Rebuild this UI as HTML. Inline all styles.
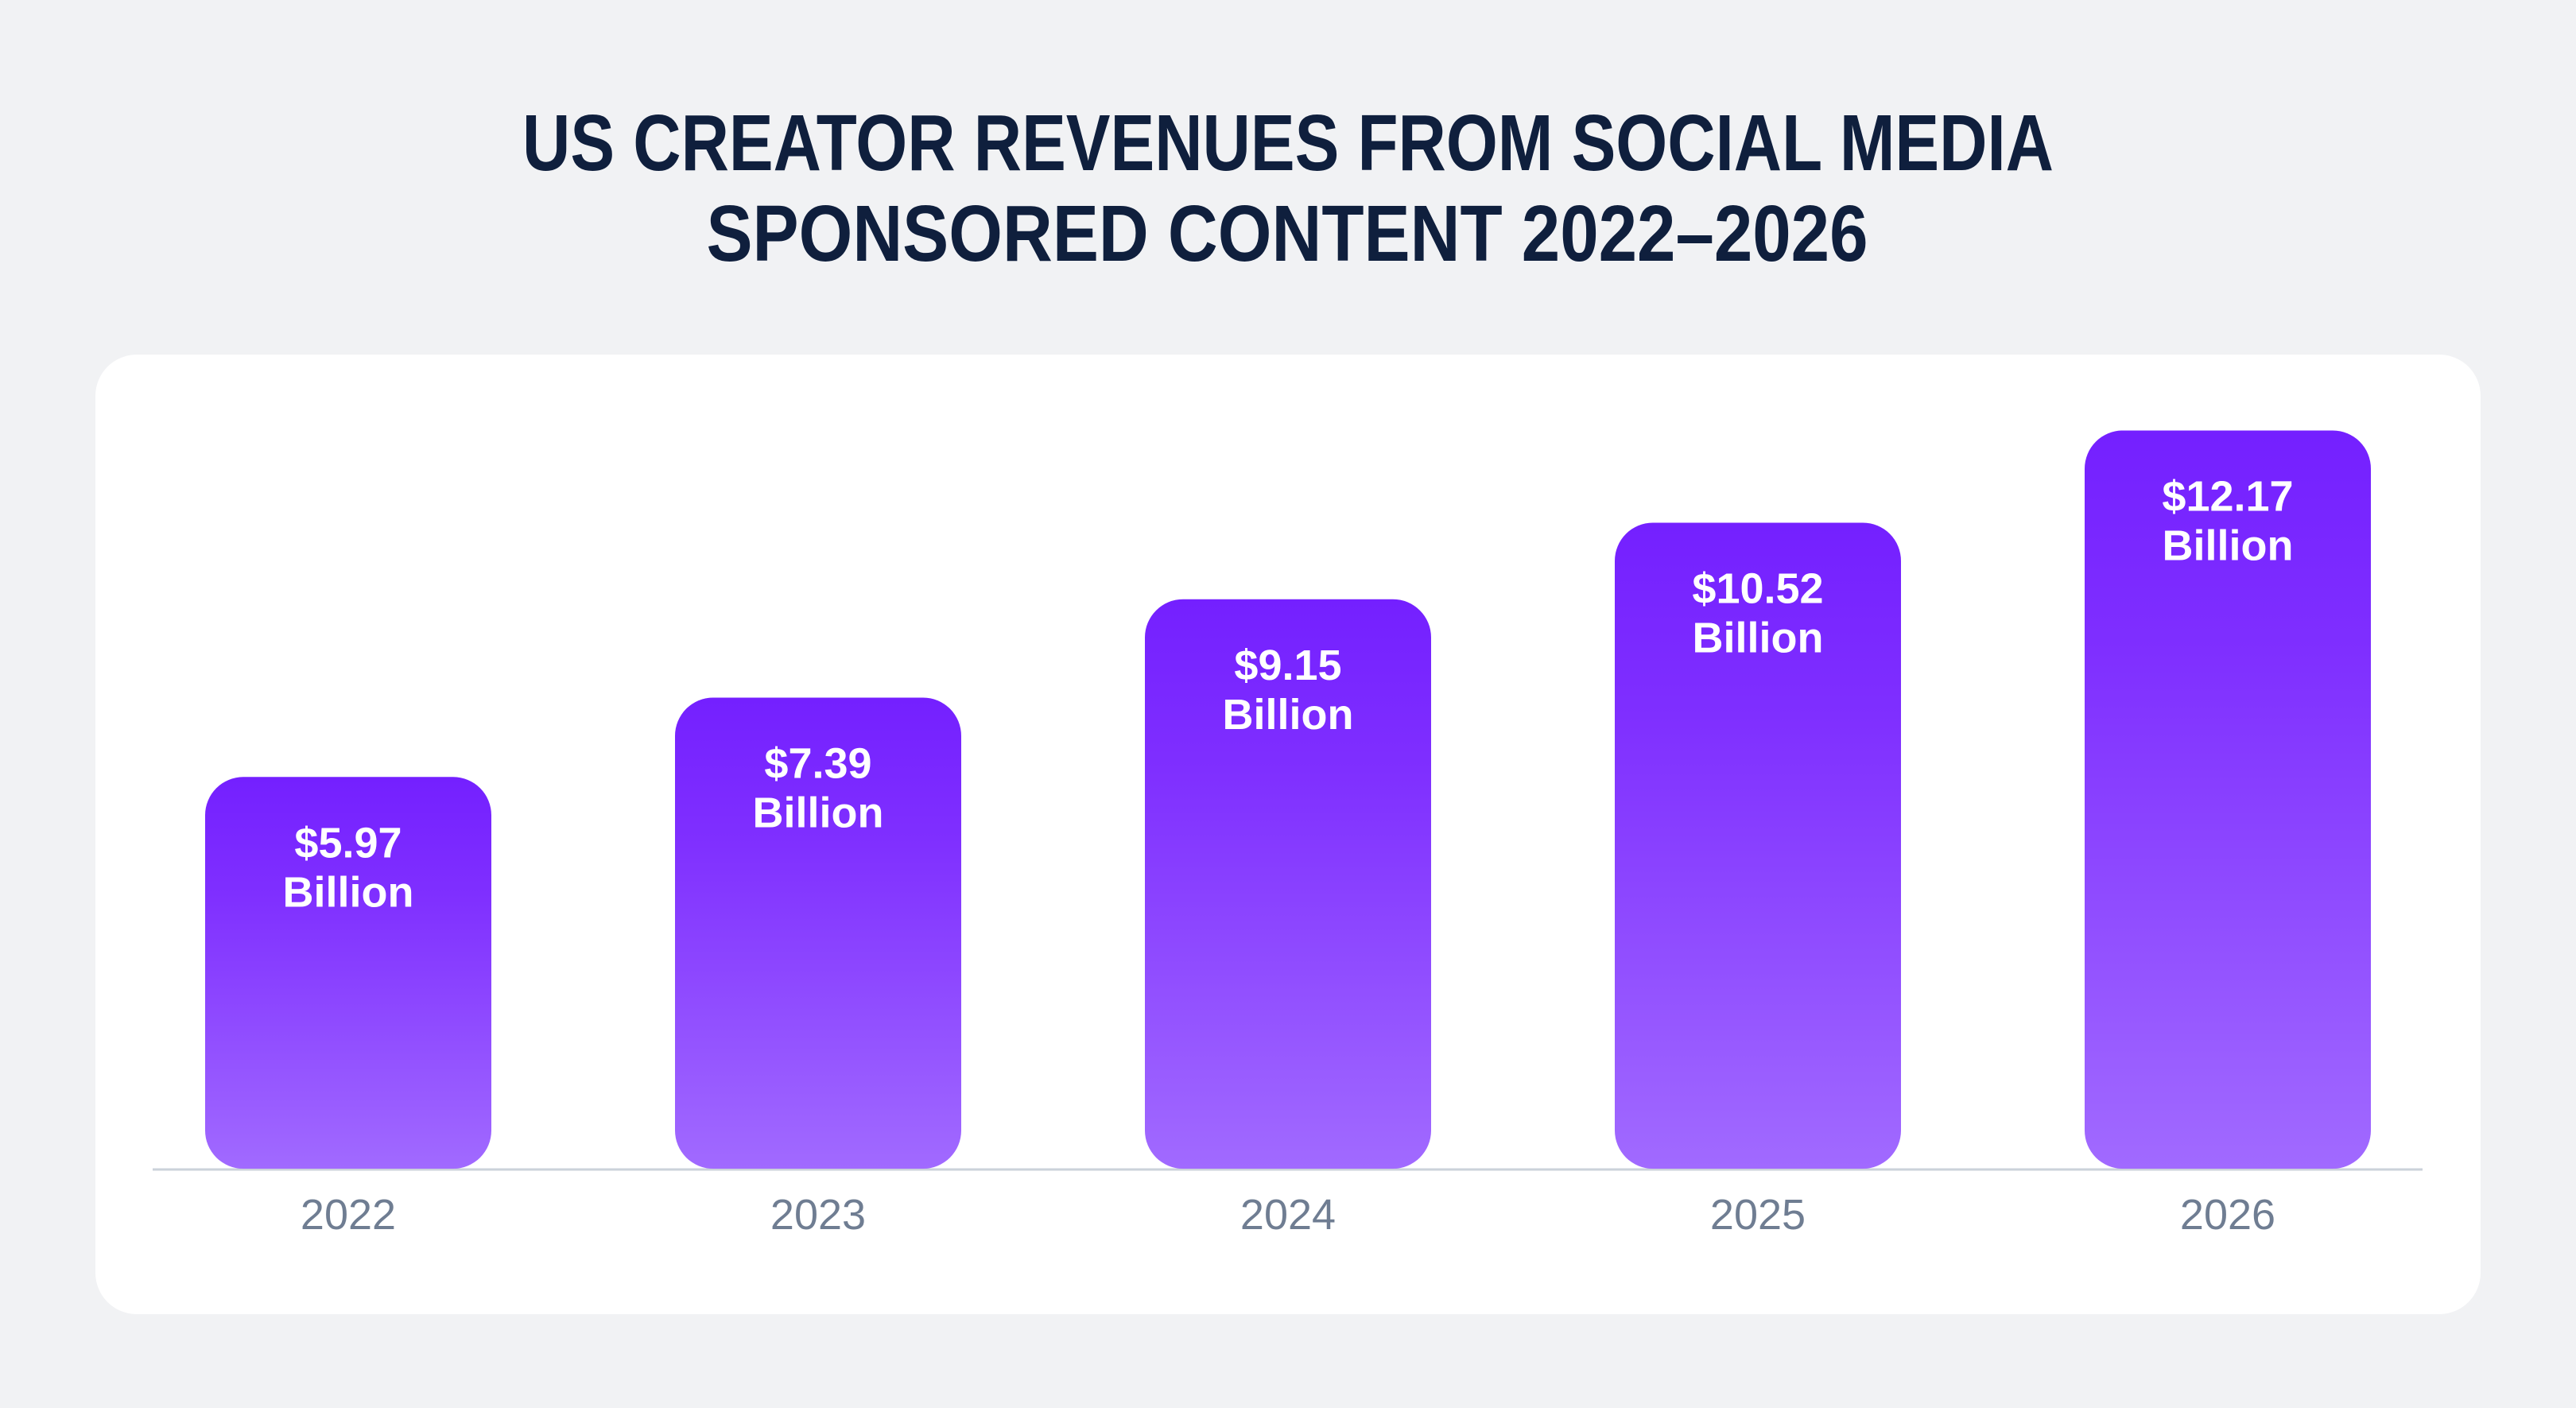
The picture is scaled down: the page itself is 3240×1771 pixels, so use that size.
<!DOCTYPE html>
<html><head><meta charset="utf-8"><style>
html,body{margin:0;padding:0;background:#f1f2f4;}
svg{display:block;font-family:"Liberation Sans",sans-serif;}
</style></head><body>
<svg id="chart" width="3240" height="1771" viewBox="0 0 3240 1771">
<defs><linearGradient id="bg" x1="0" y1="0" x2="0" y2="1"><stop offset="0" stop-color="#7420ff"/><stop offset="0.3" stop-color="#7f2fff"/><stop offset="1" stop-color="#a16aff"/></linearGradient></defs>
<rect x="0" y="0" width="3240" height="1771" fill="#f1f2f4"/>
<text x="1620" y="214" text-anchor="middle" font-size="100" font-weight="bold" fill="#0f1f3d" textLength="1926" lengthAdjust="spacingAndGlyphs">US CREATOR REVENUES FROM SOCIAL MEDIA</text>
<text x="1619" y="328" text-anchor="middle" font-size="100" font-weight="bold" fill="#0f1f3d" textLength="1461" lengthAdjust="spacingAndGlyphs">SPONSORED CONTENT 2022–2026</text>
<rect x="120" y="446" width="3000" height="1207" rx="52" fill="#ffffff"/>
<line x1="192" y1="1471" x2="3047" y2="1471" stroke="#cbd2da" stroke-width="3"/>
<g id="bars"></g>
</svg>
<script>
const categories = ["2022","2023","2024","2025","2026"];
const values = [5.97, 7.39, 9.15, 10.52, 12.17];
const valueLabels = ["$5.97","$7.39","$9.15","$10.52","$12.17"];
const unitLabel = "Billion";

const baseY = 1470, firstCenter = 438, pitch = 591, barW = 360;
function xScale(i){ return firstCenter + i*pitch; }
function hScale(v){ return 73 + 70.3*v; }
const ns = "http://www.w3.org/2000/svg";
const g = document.getElementById("bars");
categories.forEach((c,i)=>{
  const cx = xScale(i), h = hScale(values[i]), top = baseY - h;
  const r = document.createElementNS(ns,"rect");
  
  
  r.setAttribute("x", cx - barW/2); r.setAttribute("y", top);
  r.setAttribute("width", barW); r.setAttribute("height", h);
  r.setAttribute("rx", 48); r.setAttribute("fill", "url(#bg)");
  g.appendChild(r);
  const t1 = document.createElementNS(ns,"text");
  
  
  t1.setAttribute("x", cx); t1.setAttribute("y", top + 101);
  t1.setAttribute("text-anchor","middle"); t1.setAttribute("font-size","54");
  t1.setAttribute("font-weight","bold"); t1.setAttribute("fill","#ffffff");
  t1.textContent = valueLabels[i];
  g.appendChild(t1);
  const t2 = document.createElementNS(ns,"text");
  
  
  t2.setAttribute("x", cx); t2.setAttribute("y", top + 163);
  t2.setAttribute("text-anchor","middle"); t2.setAttribute("font-size","54");
  t2.setAttribute("font-weight","bold"); t2.setAttribute("fill","#ffffff");
  t2.textContent = unitLabel;
  g.appendChild(t2);
  const t3 = document.createElementNS(ns,"text");
  
  
  t3.setAttribute("x", cx); t3.setAttribute("y", 1546);
  t3.setAttribute("text-anchor","middle"); t3.setAttribute("font-size","54");
  t3.setAttribute("fill","#6f7d92");
  t3.textContent = c;
  g.appendChild(t3);
});
</script>
</body></html>
